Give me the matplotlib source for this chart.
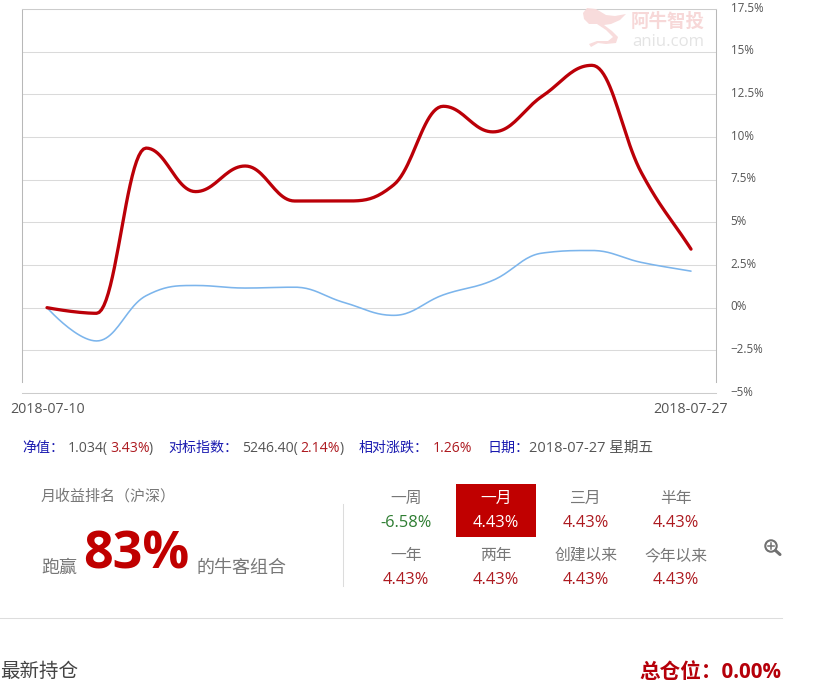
import matplotlib
matplotlib.use("Agg")
import matplotlib.pyplot as plt
import numpy as np
from matplotlib.patches import Rectangle, PathPatch, Circle
from matplotlib.path import Path

plt.rcParams['font.family'] = ['Open Sans', 'Noto Sans CJK SC', 'DejaVu Sans']

dates = ["2018-07-10", "2018-07-11", "2018-07-12", "2018-07-13", "2018-07-16", "2018-07-17", "2018-07-18",
         "2018-07-19", "2018-07-20", "2018-07-23", "2018-07-24", "2018-07-25", "2018-07-26", "2018-07-27"]
portfolio = [0, -0.33, 9.35, 6.8, 8.3, 6.25, 6.25, 7.2, 11.8, 10.3, 12.4, 14.2, 7.9, 3.43]
benchmark = [0, -1.95, 0.7, 1.3, 1.15, 1.2, 0.3, -0.45, 0.75, 1.6, 3.2, 3.35, 2.65, 2.14]
y_ticks = [-5, -2.5, 0, 2.5, 5, 7.5, 10, 12.5, 15, 17.5]
y_labels = ["-5%", "-2.5%", "0%", "2.5%", "5%", "7.5%", "10%", "12.5%", "15%", "17.5%"]
periods_row1 = ["一周", "一月", "三月", "半年"]
periods_row2 = ["一年", "两年", "创建以来", "今年以来"]
returns_row1 = ["-6.58%", "4.43%", "4.43%", "4.43%"]
returns_row2 = ["4.43%", "4.43%", "4.43%", "4.43%"]

W, H = 821, 694
RED = "#c00000"
VAL = "#ad1a20"
GRAY = "#777777"
DARK = "#555555"
BLUE = "#1a1ab0"

fig = plt.figure(figsize=(W / 100, H / 100), dpi=100, facecolor="white")
L, R, T, B = 22, 716, 9, 393
ax = fig.add_axes([L / W, 1 - B / H, (R - L) / W, (B - T) / H])


def smooth(xs, ys, s=1.5, n=24):
    """Highcharts-style spline through the data points."""
    xs, ys = np.asarray(xs, float), np.asarray(ys, float)
    out_x, out_y = [xs[0]], [ys[0]]
    rx, ry = xs[0], ys[0]
    m = len(xs)
    for i in range(1, m):
        x, y = xs[i], ys[i]
        lx, ly = (s * x + xs[i - 1]) / (s + 1), (s * y + ys[i - 1]) / (s + 1)
        nrx, nry = x, y
        if i < m - 1:
            nrx, nry = (s * x + xs[i + 1]) / (s + 1), (s * y + ys[i + 1]) / (s + 1)
            if nrx != lx:
                corr = ((nry - ly) * (nrx - x)) / (nrx - lx) + y - nry
                ly += corr
                nry += corr
                if ly > max(ys[i - 1], y):
                    ly = max(ys[i - 1], y); nry = 2 * y - ly
                elif ly < min(ys[i - 1], y):
                    ly = min(ys[i - 1], y); nry = 2 * y - ly
                if nry > max(ys[i + 1], y):
                    nry = max(ys[i + 1], y); ly = 2 * y - nry
                elif nry < min(ys[i + 1], y):
                    nry = min(ys[i + 1], y); ly = 2 * y - nry
        t = np.linspace(0, 1, n)[1:]
        p0, p1, p2, p3 = (xs[i - 1], ys[i - 1]), (rx, ry), (lx, ly), (x, y)
        bx = (1 - t) ** 3 * p0[0] + 3 * (1 - t) ** 2 * t * p1[0] + 3 * (1 - t) * t ** 2 * p2[0] + t ** 3 * p3[0]
        by = (1 - t) ** 3 * p0[1] + 3 * (1 - t) ** 2 * t * p1[1] + 3 * (1 - t) * t ** 2 * p2[1] + t ** 3 * p3[1]
        out_x.extend(bx); out_y.extend(by)
        rx, ry = nrx, nry
    return np.array(out_x), np.array(out_y)


idx = np.arange(len(dates))
ax.set_xlim((L - 47) / 49.54, (R - 47) / 49.54)
ax.set_ylim(-5, 17.5)
ax.set_yticks(y_ticks)
ax.set_xticks([])
ax.set_yticklabels([])
ax.tick_params(length=0)
ax.grid(axis="y", color="#dadada", lw=0.75)
ax.set_axisbelow(True)
for sp in ["left", "right"]:
    ax.spines[sp].set_color("#b8b8b8")
    ax.spines[sp].set_linewidth(0.75)
    ax.spines[sp].set_bounds(-4.36, 17.5)
for sp in ["top", "bottom"]:
    ax.spines[sp].set_color("#cccccc")
    ax.spines[sp].set_linewidth(0.75)

bx, by = smooth(idx, benchmark)
ax.plot(bx, by, color="#7cb5ec", lw=1.15, solid_capstyle="round", label="benchmark")
rx, ry = smooth(idx, portfolio)
ax.plot(rx, ry, color="#bb0008", lw=2.35, solid_capstyle="round", label="portfolio")

# pixel-space overlay for page furniture
ov = fig.add_axes([0, 0, 1, 1], facecolor="none", zorder=5)
ov.set_xlim(0, W)
ov.set_ylim(H, 0)
ov.axis("off")


def txt(x, y, s, px, color=DARK, ha="left", weight="normal", **kw):
    return ov.text(x, y, s, fontsize=px * 0.72, color=color, ha=ha, va="center", fontweight=weight, **kw)


# right-hand tick labels, read from the same values as the y axis
for v, lab in zip(y_ticks, y_labels):
    y_px = B - (v + 5) / 22.5 * (B - T)
    txt(730.5, y_px - 0.8, lab.replace("-", "−"), 11.6, "#555555")

txt(10.5, 409, dates[0], 14.3, "#555555")
txt(653.5, 409, dates[-1], 14.3, "#555555")

# watermark
verts = [(583, 13), (587, 8), (596, 9), (606, 15), (615, 16), (626, 14), (620, 20), (611, 24), (604, 25),
         (612, 31), (618, 37), (616, 43), (606, 44), (598, 43), (591, 47), (589, 44), (597, 41), (608, 41),
         (613, 37), (606, 30), (597, 24), (589, 24), (584, 19), (583, 13)]
ov.add_patch(PathPatch(Path(verts), fc="#f8dada", ec="none", alpha=0.95))
txt(631, 22, "阿牛智投", 18.5, "#f7d8d8", weight="bold")
txt(632, 42, "aniu.com", 16.8, "#e4e4e4")

# summary row
summary = [(22, "净值：", BLUE), (68, "1.034(", DARK), (110, "3.43%", VAL), (149, ")", DARK),
           (168, "对标指数：", BLUE), (242, "5246.40(", DARK), (300, "2.14%", VAL), (340, ")", DARK),
           (359, "相对涨跌：", BLUE), (433, "1.26%", VAL), (488, "日期：", BLUE)]
for x, s, c in summary:
    txt(x, 448, s, 14, c)
txt(529, 448, "2018-07-27 星期五", 14.6, DARK)

# ranking block
txt(41, 497, "月收益排名（沪深）", 15, GRAY)
txt(41, 568, "跑赢", 18, GRAY)
txt(83.5, 555, "83%", 52, RED, weight="bold")
txt(196, 568, "的牛客组合", 18, GRAY)
ov.plot([343, 343], [504, 586], color="#dcdcdc", lw=0.75)

# period grid
ov.add_patch(Rectangle((456, 484), 80, 53, fc="#c00000", ec="none"))
cols = [406, 496, 586, 676]
for i, cx in enumerate(cols):
    active = i == 1
    txt(cx, 499, periods_row1[i], 15.8, "white" if active else GRAY, ha="center")
    col = "white" if active else ("#2e7d32" if returns_row1[i].startswith("-") else VAL)
    txt(cx, 523, returns_row1[i], 16.4, col, ha="center")
    txt(cx, 556, periods_row2[i], 15.8, GRAY, ha="center")
    txt(cx, 580, returns_row2[i], 16.4, VAL, ha="center")

# magnifier icon
ov.add_patch(Circle((771, 546), 5.7, fc="none", ec="#707070", lw=1.5))
ov.plot([768, 774], [546, 546], color="#707070", lw=1.1)
ov.plot([771, 771], [543, 549], color="#707070", lw=1.1)
ov.plot([775.5, 780], [550.5, 554.5], color="#707070", lw=2.2, solid_capstyle="round")

# footer
ov.plot([0, 782], [618, 618], color="#dddddd", lw=0.75)
txt(0, 672, "最新持仓", 19.5, "#444444")
txt(781, 673, "总仓位：0.00%", 20.6, "#b5000a", ha="right", weight="bold")

fig.savefig("out.png", dpi=100, facecolor="white")
